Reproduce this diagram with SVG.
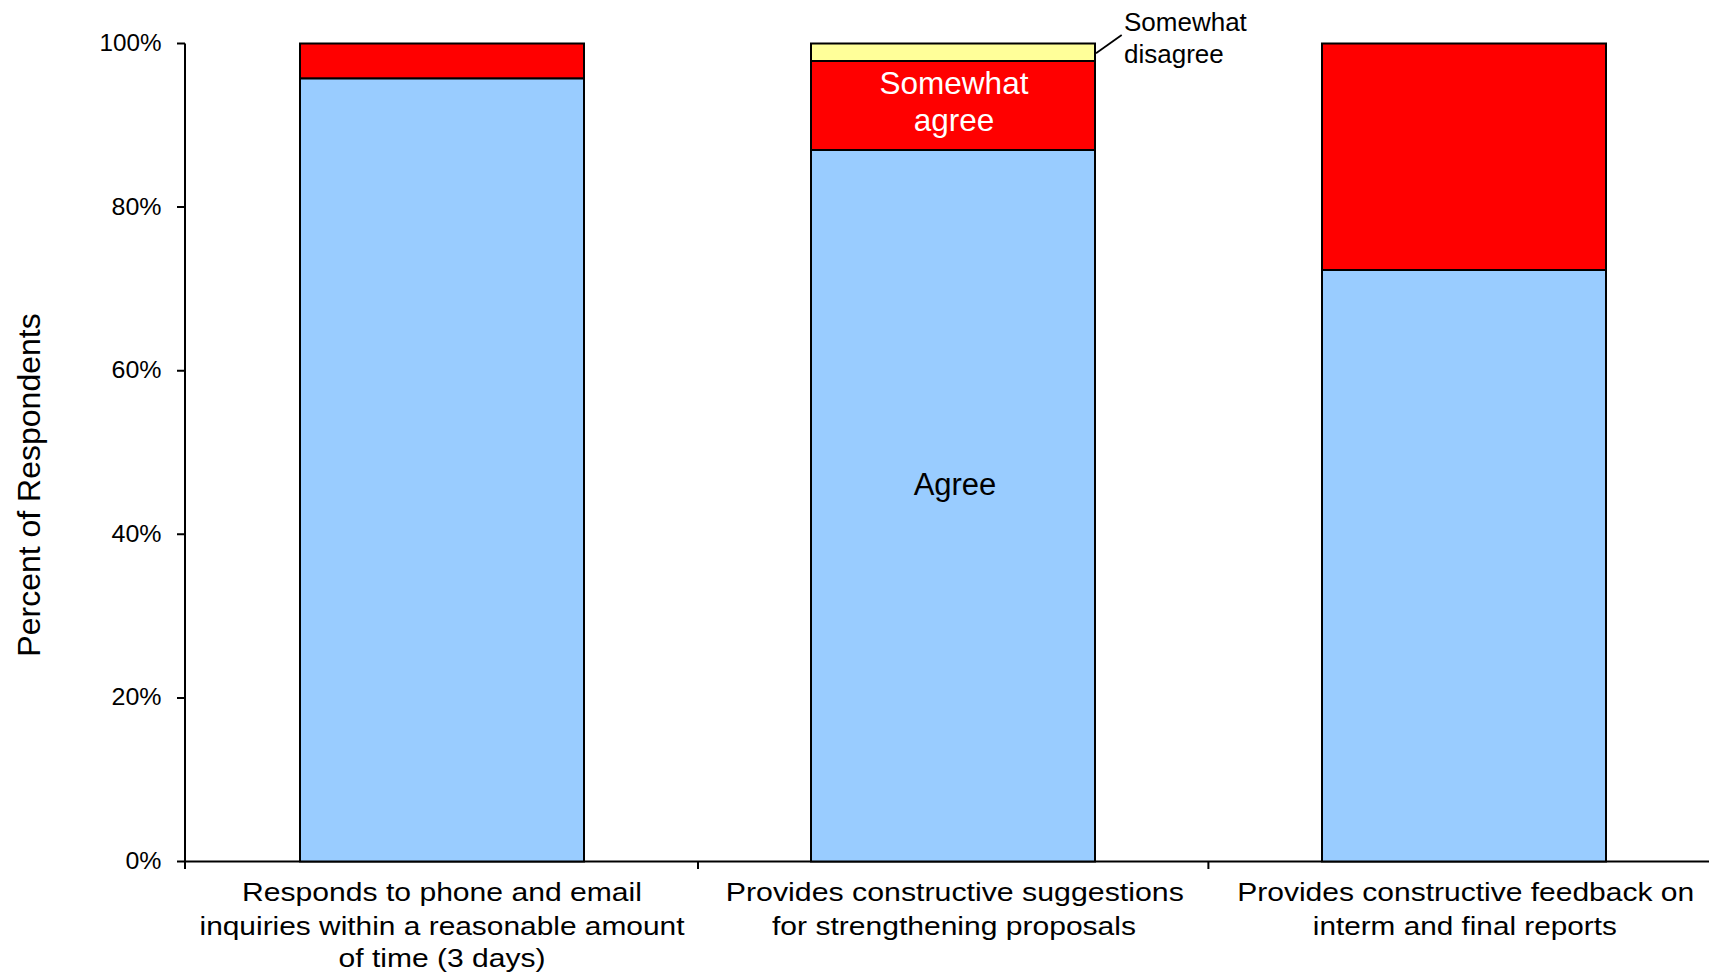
<svg xmlns="http://www.w3.org/2000/svg" width="1709" height="973" viewBox="0 0 1709 973">
<style>
text{font-family:"Liberation Sans",Arial,sans-serif;fill:#000}
.seg{stroke:#000;stroke-width:2}
.agree{fill:#99CCFF}
.sa{fill:#FF0000}
.sd{fill:#FFFF99}
.ax{stroke:#000;stroke-width:2;fill:none}
.tick{font-size:23px;text-anchor:end}
.cat{font-size:25px;text-anchor:middle}
</style>
<rect width="1709" height="973" fill="#fff"/>
<g id="axes">
<path class="ax" d="M185,43.5V869M177,43.5H185M177,207.1H185M177,370.7H185M177,534.3H185M177,697.9H185M177,861.5H1709M698,861.5V869M1208.4,861.5V869"/>
<text class="tick" x="161.5" y="51" textLength="62" lengthAdjust="spacingAndGlyphs">100%</text>
<text class="tick" x="161.5" y="214.6" textLength="50" lengthAdjust="spacingAndGlyphs">80%</text>
<text class="tick" x="161.5" y="378.2" textLength="50" lengthAdjust="spacingAndGlyphs">60%</text>
<text class="tick" x="161.5" y="541.8" textLength="50" lengthAdjust="spacingAndGlyphs">40%</text>
<text class="tick" x="161.5" y="705.4" textLength="50" lengthAdjust="spacingAndGlyphs">20%</text>
<text class="tick" x="161.5" y="869" textLength="36" lengthAdjust="spacingAndGlyphs">0%</text>
<text x="0" y="0" transform="translate(39.5,485) rotate(-90)" text-anchor="middle" font-size="32">Percent of Respondents</text>
</g>
<g id="bar1">
<rect class="seg agree" x="300" y="78.3" width="284" height="783.2"/>
<rect class="seg sa" x="300" y="43.5" width="284" height="34.8"/>
<text class="cat" x="442" y="901" textLength="400" lengthAdjust="spacingAndGlyphs">Responds to phone and email</text>
<text class="cat" x="442" y="935" textLength="485" lengthAdjust="spacingAndGlyphs">inquiries within a reasonable amount</text>
<text class="cat" x="442" y="967" textLength="207" lengthAdjust="spacingAndGlyphs">of time (3 days)</text>
</g>
<g id="bar2">
<rect class="seg agree" x="811" y="150" width="284" height="711.5"/>
<rect class="seg sa" x="811" y="61" width="284" height="89"/>
<rect class="seg sd" x="811" y="43.5" width="284" height="17.5"/>
<text x="955" y="495" text-anchor="middle" font-size="31">Agree</text>
<text x="954" y="94" text-anchor="middle" font-size="31.5" style="fill:#fff">Somewhat</text>
<text x="954" y="130.5" text-anchor="middle" font-size="31.5" style="fill:#fff">agree</text>
<text x="1124" y="30.5" font-size="26">Somewhat</text>
<text x="1124" y="63" font-size="26">disagree</text>
<text class="cat" x="954.8" y="901" textLength="458" lengthAdjust="spacingAndGlyphs">Provides constructive suggestions</text>
<text class="cat" x="954" y="935" textLength="364" lengthAdjust="spacingAndGlyphs">for strengthening proposals</text>
</g>
<g id="bar3">
<rect class="seg agree" x="1322" y="270" width="284" height="591.5"/>
<rect class="seg sa" x="1322" y="43.5" width="284" height="226.5"/>
<text class="cat" x="1465.7" y="901" textLength="457" lengthAdjust="spacingAndGlyphs">Provides constructive feedback on</text>
<text class="cat" x="1464.8" y="935" textLength="304" lengthAdjust="spacingAndGlyphs">interm and final reports</text>
</g>
<g id="connectors">
<path d="M1096,53.3L1121.7,35" stroke="#000" stroke-width="1.8" fill="none"/>
</g>
</svg>
